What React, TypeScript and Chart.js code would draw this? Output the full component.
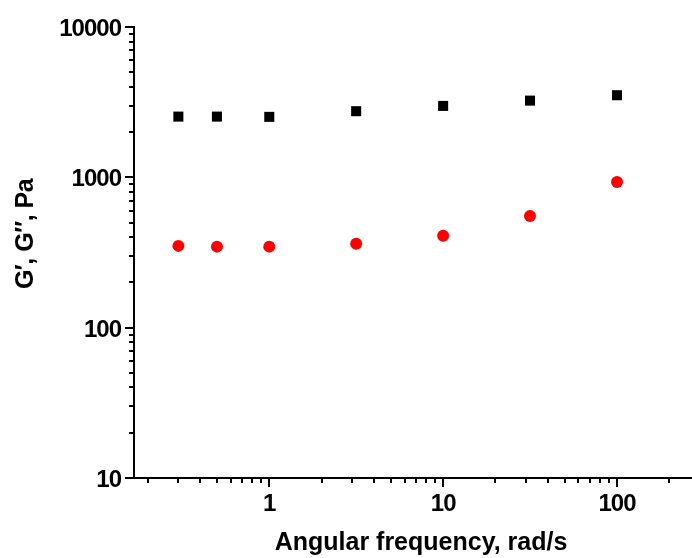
import { useEffect, useRef } from "react";
import { Chart, registerables } from "chart.js";

Chart.register(...registerables);

// Data
const frequencies = [0.3, 0.5, 1, 3.16, 10, 31.6, 100];
const storageModulus = [2535, 2535, 2525, 2754, 2986, 3238, 3517];
const lossModulus = [350, 346, 346, 361, 409, 553, 932];

// Axis ticks
const xMajorTicks = [1, 10, 100];
const xMinorTicks = [
  0.2, 0.3, 0.4, 0.5, 0.6, 0.7, 0.8, 0.9,
  2, 3, 4, 5, 6, 7, 8, 9,
  20, 30, 40, 50, 60, 70, 80, 90,
  200,
];
const yMajorTicks = [10, 100, 1000, 10000];
const yMinorTicks = [
  20, 30, 40, 50, 60, 70, 80, 90,
  200, 300, 400, 500, 600, 700, 800, 900,
  2000, 3000, 4000, 5000, 6000, 7000, 8000, 9000,
];

const xTitle = "Angular frequency, rad/s";
const yTitle = "G′, G″, Pa";

const FONT = '"Liberation Sans", Arial, Helvetica, sans-serif';

export default function App() {
  const canvasRef = useRef<HTMLCanvasElement | null>(null);

  useEffect(() => {
    document.body.style.margin = "0";
    const canvas = canvasRef.current;
    if (!canvas) return;

    const axesPlugin = {
      id: "axesPlugin",
      afterDraw(chart: any) {
        const ctx = chart.ctx as any;
        const area = chart.chartArea;
        const xs = chart.scales.x;
        const ys = chart.scales.y;
        const left = Math.round(area.left);
        const bottom = Math.round(area.bottom);
        ctx.save();
        ctx.strokeStyle = "#000";
        ctx.lineWidth = 2;
        ctx.lineCap = "butt";
        // axis lines
        ctx.beginPath();
        ctx.moveTo(left, Math.round(area.top) - 1);
        ctx.lineTo(left, bottom + 1);
        ctx.moveTo(left - 1, bottom);
        ctx.lineTo(Math.round(area.right) + 2, bottom);
        ctx.stroke();
        // y ticks
        ctx.beginPath();
        yMajorTicks.forEach((v) => {
          const y = Math.round(ys.getPixelForValue(v));
          ctx.moveTo(left - 9, y);
          ctx.lineTo(left, y);
        });
        yMinorTicks.forEach((v) => {
          const y = Math.round(ys.getPixelForValue(v));
          ctx.moveTo(left - 5, y);
          ctx.lineTo(left, y);
        });
        // x ticks
        xMajorTicks.forEach((v) => {
          const x = Math.round(xs.getPixelForValue(v));
          ctx.moveTo(x, bottom);
          ctx.lineTo(x, bottom + 9);
        });
        xMinorTicks.forEach((v) => {
          const x = Math.round(xs.getPixelForValue(v));
          ctx.moveTo(x, bottom);
          ctx.lineTo(x, bottom + 5);
        });
        ctx.stroke();

        // tick labels
        ctx.fillStyle = "#000";
        ctx.font = `bold 24px ${FONT}`;
        ctx.letterSpacing = "-1px";
        ctx.textBaseline = "alphabetic";
        ctx.textAlign = "right";
        yMajorTicks.forEach((v) => {
          const y = ys.getPixelForValue(v);
          ctx.fillText(String(v), left - 13, y + 9);
        });
        ctx.textAlign = "center";
        xMajorTicks.forEach((v) => {
          const x = xs.getPixelForValue(v);
          ctx.fillText(String(v), x, bottom + 33);
        });

        // titles
        ctx.letterSpacing = "0px";
        ctx.font = `bold 25px ${FONT}`;
        ctx.textAlign = "center";
        ctx.fillText(xTitle, 421, 550);

        ctx.letterSpacing = "-0.5px";
        ctx.translate(33, 234);
        ctx.rotate(-Math.PI / 2);
        ctx.fillText(yTitle, 0, 0);
        ctx.restore();
      },
    };

    const chart = new Chart(canvas, {
      type: "scatter",
      data: {
        datasets: [
          {
            label: "G'",
            data: frequencies.map((f, i) => ({ x: f, y: storageModulus[i] })),
            pointStyle: "rect",
            pointRadius: 7.1,
            pointHoverRadius: 7.1,
            backgroundColor: "#000000",
            borderColor: "#000000",
            borderWidth: 0,
            showLine: false,
          },
          {
            label: 'G"',
            data: frequencies.map((f, i) => ({ x: f, y: lossModulus[i] })),
            pointStyle: "circle",
            pointRadius: 6,
            pointHoverRadius: 6,
            backgroundColor: "#ff0000",
            borderColor: "#ff0000",
            borderWidth: 0,
            showLine: false,
          },
        ],
      },
      options: {
        animation: false,
        responsive: false,
        maintainAspectRatio: false,
        layout: { autoPadding: false, padding: { top: 27, right: 0, left: 0, bottom: 0 } },
        plugins: {
          legend: { display: false },
          tooltip: { enabled: false },
          title: { display: false },
        },
        scales: {
          x: {
            type: "logarithmic",
            position: "bottom",
            min: 0.1667,
            max: 270,
            afterFit: (scale: any) => {
              scale.height = 80;
              scale.paddingLeft = 0;
              scale.paddingRight = 0;
            },
            grid: { display: false, drawTicks: false },
            border: { display: false },
            ticks: { display: false },
          },
          y: {
            type: "logarithmic",
            position: "left",
            min: 10,
            max: 10000,
            afterFit: (scale: any) => {
              scale.width = 134;
              scale.paddingTop = 0;
              scale.paddingBottom = 0;
            },
            grid: { display: false, drawTicks: false },
            border: { display: false },
            ticks: { display: false },
          },
        },
      },
      plugins: [axesPlugin],
    });

    return () => chart.destroy();
  }, []);

  return (
    <div style={{ width: 692, height: 558, position: "relative" }}>
      <canvas ref={canvasRef} width={692} height={558} style={{ width: 692, height: 558, display: "block" }} />
    </div>
  );
}
